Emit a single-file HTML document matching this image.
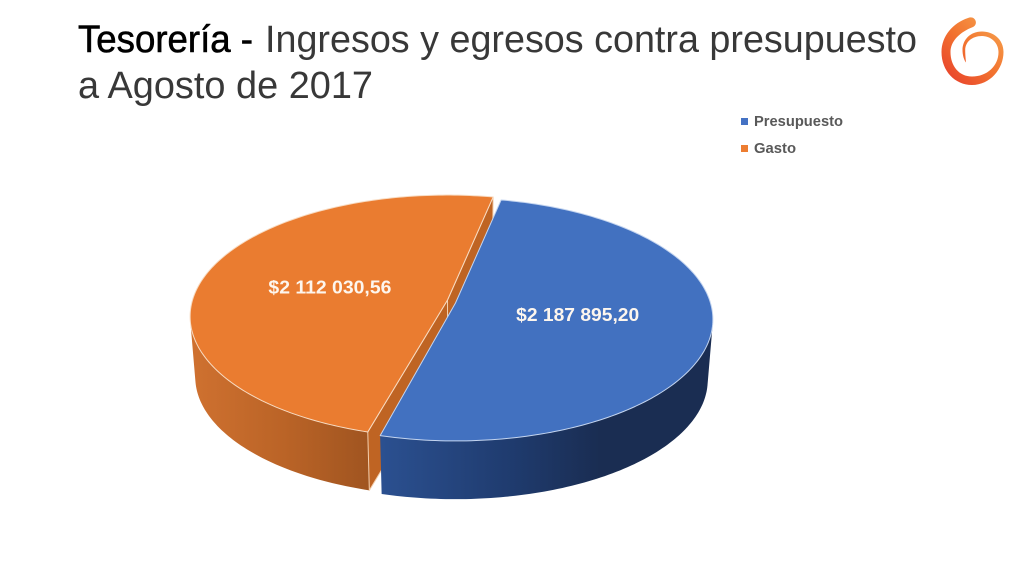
<!DOCTYPE html>
<html lang="es">
<head>
<meta charset="utf-8">
<title>Tesorería - Ingresos y egresos contra presupuesto</title>
<style>
  html, body { margin: 0; padding: 0; background: #ffffff; }
  #slide { display: block; width: 1024px; height: 576px; }
  text { font-family: "Liberation Sans", sans-serif; }
</style>
</head>
<body>
<svg id="slide" xmlns="http://www.w3.org/2000/svg" width="1024" height="576" viewBox="0 0 1024 576">
  <defs>
    <linearGradient id="orangeWall" gradientUnits="userSpaceOnUse" x1="191" y1="0" x2="372" y2="0">
      <stop offset="0" stop-color="#cf7130"/>
      <stop offset="0.5" stop-color="#bb6427"/>
      <stop offset="1" stop-color="#9f5420"/>
    </linearGradient>
    <linearGradient id="blueWall" gradientUnits="userSpaceOnUse" x1="381" y1="0" x2="600" y2="0">
      <stop offset="0" stop-color="#2b5090"/>
      <stop offset="0.6" stop-color="#1f3b6e"/>
      <stop offset="1" stop-color="#1a2d52"/>
    </linearGradient>
    <linearGradient id="logoGrad" gradientUnits="userSpaceOnUse" x1="945" y1="80" x2="1000" y2="25">
      <stop offset="0" stop-color="#e8412c"/>
      <stop offset="0.5" stop-color="#f2722f"/>
      <stop offset="1" stop-color="#f6a04c"/>
    </linearGradient>
  </defs>

  <g>
    <text x="78" y="52" font-size="38" fill="#000000" stroke="#000000" stroke-width="0.6" textLength="175" lengthAdjust="spacingAndGlyphs">Tesorería -</text>
    <text x="265" y="52" font-size="38" fill="#383838" textLength="652" lengthAdjust="spacingAndGlyphs">Ingresos y egresos contra presupuesto</text>
    <text x="78" y="98" font-size="38" fill="#383838" textLength="295" lengthAdjust="spacingAndGlyphs">a Agosto de 2017</text>
  </g>

  <path fill="url(#logoGrad)" d="M968 18C953 23 941.500 36 941.500 52C941.500 71 955 85 972 85C990 85 1003.500 69 1003.500 52C1003.500 39 993 31.500 982 31.500C970 31.500 962.500 40 962.500 50C962.500 55 964 60 966 62.500C965.500 57 965.200 54 965.200 50C965.200 42 972 36 982 36C991 36 998.500 43 998.500 52C998.500 66 987 76.500 972 76.500C959 76.500 950.500 66 950.500 52C950.500 41 960 32 973 27C979 24 975 15 968 18Z"/>

  <g id="pie"></g>
  <g id="legend"></g>
</svg>

<script>
// Chart data
const categories = ['Presupuesto', 'Gasto'];
const values = [2187895.20, 2112030.56];
const valueLabels = ['$2 187 895,20', '$2 112 030,56'];

const NS = 'http://www.w3.org/2000/svg';
const pie = document.getElementById('pie');
const legend = document.getElementById('legend');

// Pie projection settings
const view = { cx: 451.5, cy: 301.5, R: 255, S: 119.2, k: 0.1358, depth: 61, shrink: 0.98, startDeg: 11.7, explodeX: 4.1, explodeY: 6.5 };
const skins = [
  { face: '#4271c0', faceStroke: '#c4d5f0', wall: 'url(#blueWall)', inner: null, edge: null, labelDy: 4.5, pad: 0 },
  { face: '#ea7c30', faceStroke: '#f8dcc3', wall: 'url(#orangeWall)', inner: '#bf6423', edge: '#f3cfae', labelDy: 6.5, pad: 0.9 }
];
const legendColors = ['#4472c4', '#ed7d31'];

function rad(d) { return d * Math.PI / 180; }

// Maps a point on the unit disc (angle clockwise from the top, radius 0..1) to the top face
function project(deg, r, o) {
  const u = r * Math.sin(rad(deg));
  const v = -r * Math.cos(rad(deg));
  const w = 1 - view.k * v;
  return [o.x + view.R * u / w, o.y + view.S * v / w];
}
// Same point on the lower face of the pie
function lower(p, o) {
  return [o.x + (p[0] - o.x) * view.shrink, o.y + (p[1] - o.y) * view.shrink + view.depth];
}
function arcPoints(a0, a1, o) {
  const pts = [];
  const n = Math.max(2, Math.ceil(Math.abs(a1 - a0)));
  for (let i = 0; i <= n; i++) {
    pts.push(project(a0 + (a1 - a0) * i / n, 1, o));
  }
  return pts;
}
function toPath(pts) {
  return 'M' + pts.map(function (p) { return p[0].toFixed(2) + ' ' + p[1].toFixed(2); }).join('L') + 'Z';
}
function signedArea(pts) {
  let a = 0;
  pts.forEach(function (p, i) {
    const q = pts[(i + 1) % pts.length];
    a += p[0] * q[1] - q[0] * p[1];
  });
  return a;
}
// Outer wall as a union of uniformly wound quads, so the silhouette is the full sweep
function wallPath(rim, o) {
  let d = '';
  for (let i = 0; i < rim.length - 1; i++) {
    const quad = [rim[i], rim[i + 1], lower(rim[i + 1], o), lower(rim[i], o)];
    if (signedArea(quad) < 0) quad.reverse();
    d += toPath(quad);
  }
  return d;
}
function addPath(d, fill, stroke, width) {
  const el = document.createElementNS(NS, 'path');
  el.setAttribute('d', d);
  el.setAttribute('fill', fill);
  el.setAttribute('stroke', stroke);
  el.setAttribute('stroke-width', width);
  el.setAttribute('stroke-linejoin', 'round');
  pie.appendChild(el);
  return el;
}

// Slice geometry comes from the values
const total = values.reduce(function (a, b) { return a + b; }, 0);
let cursor = view.startDeg;
const slices = values.map(function (val, i) {
  const sweep = val / total * 360;
  const a0 = cursor;
  const a1 = cursor + sweep;
  cursor = a1;
  const mid = (a0 + a1) / 2;
  const o = {
    x: view.cx + view.explodeX * Math.sin(rad(mid)),
    y: view.cy - view.explodeY * Math.cos(rad(mid))
  };
  return { i: i, a0: a0, a1: a1, mid: mid, o: o, rim: arcPoints(a0 + skins[i].pad, a1, o) };
});

// Paint from back to front: the Gasto slice first, then Presupuesto
[1, 0].forEach(function (idx) {
  const s = slices[idx];
  const skin = skins[idx];

  const wall = addPath(wallPath(s.rim, s.o), skin.wall, 'none', 0);
  
  

  if (skin.inner) {
    const apex = [s.o.x, s.o.y];
    const apexLow = lower(apex, s.o);
    const first = s.rim[0];
    const last = s.rim[s.rim.length - 1];
    const cutA = addPath(toPath([apex, last, lower(last, s.o), apexLow]), skin.inner, skin.edge, 1);
    
    
    const cutB = addPath(toPath([apex, first, lower(first, s.o), apexLow]), skin.inner, skin.edge, 1);
    
    
  }

  const face = addPath(toPath([[s.o.x, s.o.y]].concat(s.rim)), skin.face, skin.faceStroke, 1);
  
  
});

// Printed values
slices.forEach(function (s) {
  const p = project(s.mid, 0.483, s.o);
  const t = document.createElementNS(NS, 'text');
  t.setAttribute('x', (p[0] + 0.5).toFixed(2));
  t.setAttribute('y', (p[1] + skins[s.i].labelDy).toFixed(2));
  t.setAttribute('text-anchor', 'middle');
  t.setAttribute('font-size', '18');
  t.setAttribute('font-weight', 'bold');
  t.setAttribute('fill', '#fdf6ee');
  t.setAttribute('textLength', '123');
  t.setAttribute('lengthAdjust', 'spacingAndGlyphs');
  
  
  t.textContent = valueLabels[s.i];
  pie.appendChild(t);
});

// Legend
const legendWidths = [89, 42];
categories.forEach(function (name, i) {
  const y = 118 + i * 27;
  const swatch = document.createElementNS(NS, 'rect');
  swatch.setAttribute('x', '741');
  swatch.setAttribute('y', y);
  swatch.setAttribute('width', '7');
  swatch.setAttribute('height', '7');
  swatch.setAttribute('fill', legendColors[i]);
  
  
  legend.appendChild(swatch);

  const label = document.createElementNS(NS, 'text');
  label.setAttribute('x', '754');
  label.setAttribute('y', y + 8);
  label.setAttribute('font-size', '14.5');
  label.setAttribute('font-weight', 'bold');
  label.setAttribute('fill', '#595959');
  label.setAttribute('textLength', legendWidths[i]);
  label.setAttribute('lengthAdjust', 'spacingAndGlyphs');
  
  
  label.textContent = name;
  legend.appendChild(label);
});
</script>
</body>
</html>
